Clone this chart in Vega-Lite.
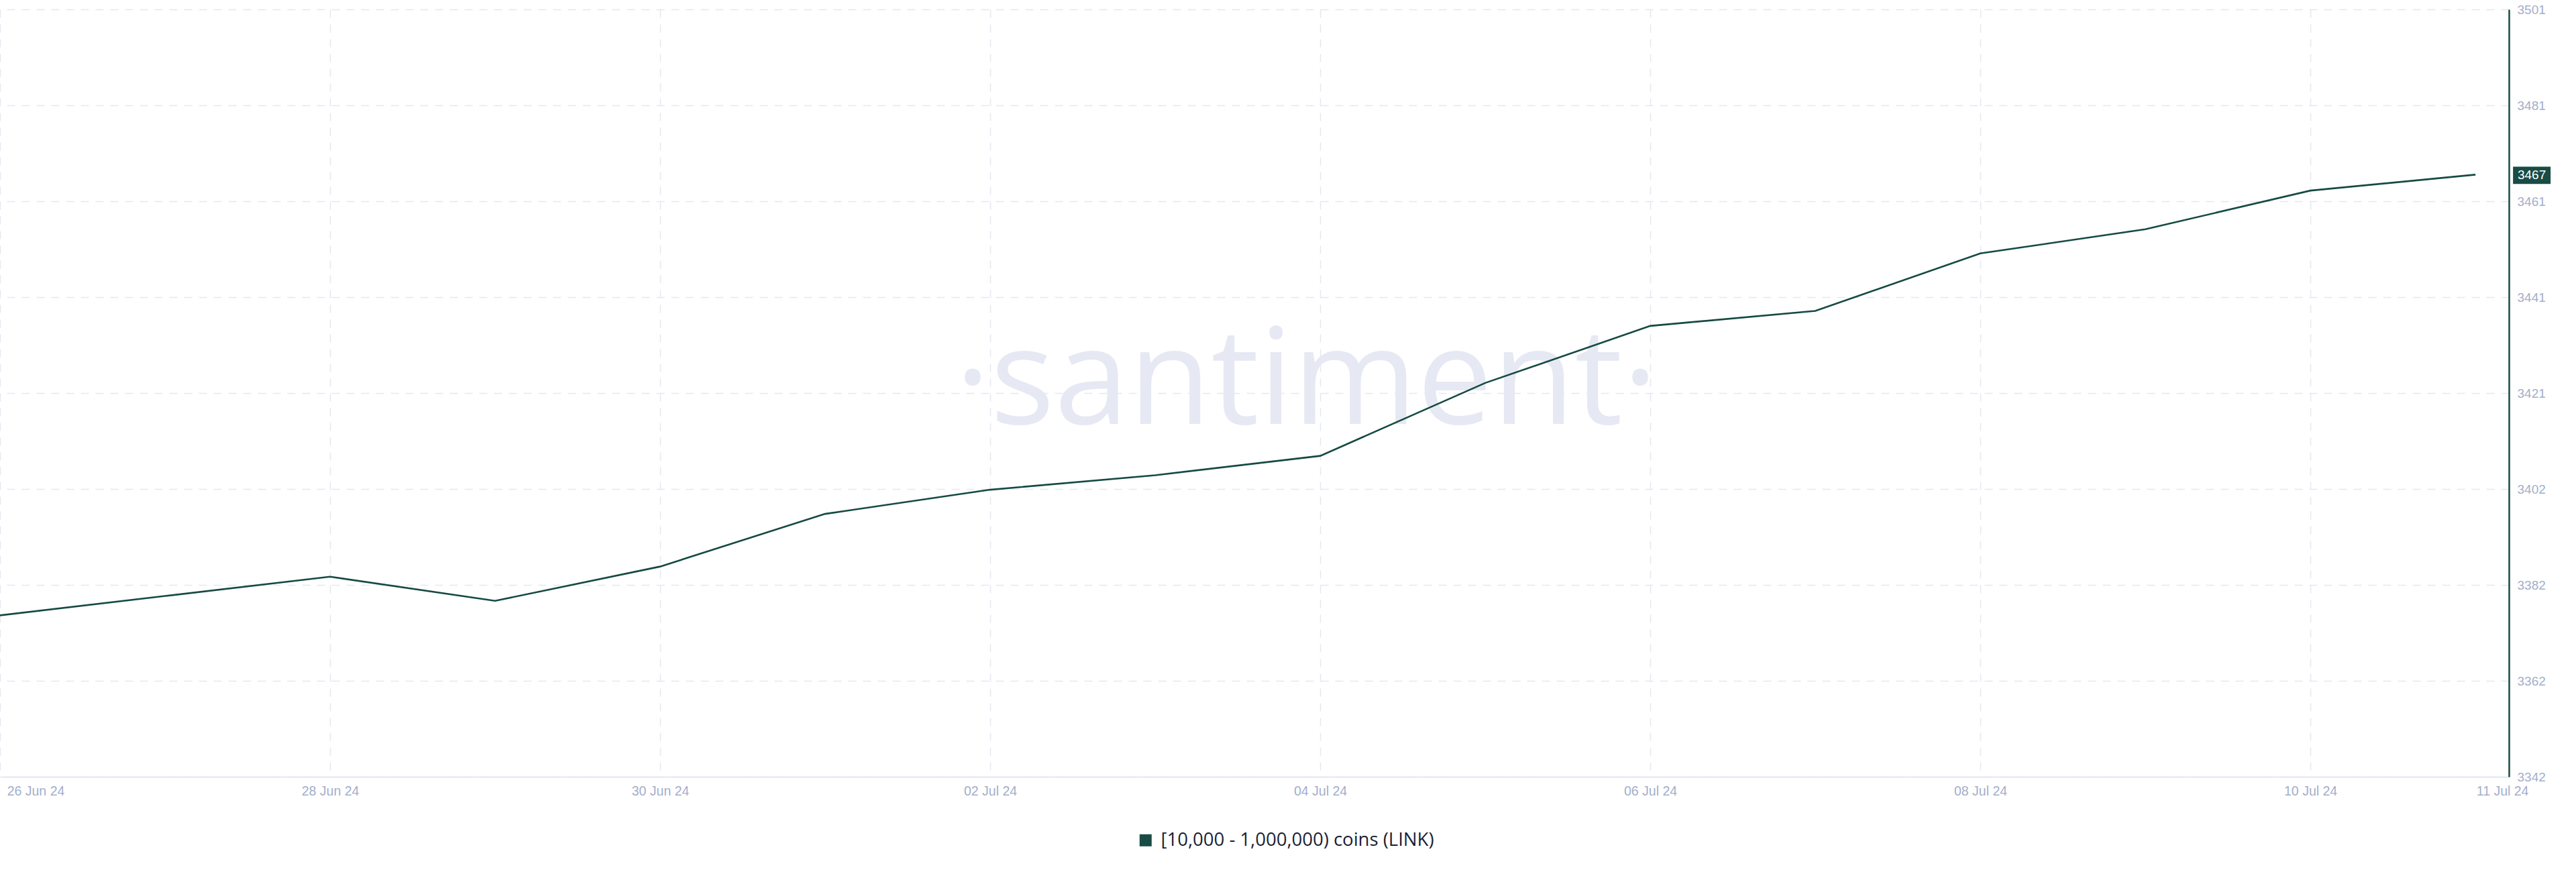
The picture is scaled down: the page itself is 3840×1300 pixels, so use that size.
{
  "$schema": "https://vega.github.io/schema/vega-lite/v6.json",
  "width": 3740,
  "height": 1144,
  "autosize": "none",
  "padding": {"left": 0, "top": 14, "right": 100, "bottom": 142},
  "background": "white",
  "config": {"view": {"stroke": null}},
  "data": {
    "values": [
      {"date": "2024-06-26", "value": 3375.4, "series": "[10,000 - 1,000,000) coins (LINK)"},
      {"date": "2024-06-27", "value": 3379.4, "series": "[10,000 - 1,000,000) coins (LINK)"},
      {"date": "2024-06-28", "value": 3383.4, "series": "[10,000 - 1,000,000) coins (LINK)"},
      {"date": "2024-06-29", "value": 3378.4, "series": "[10,000 - 1,000,000) coins (LINK)"},
      {"date": "2024-06-30", "value": 3385.5, "series": "[10,000 - 1,000,000) coins (LINK)"},
      {"date": "2024-07-01", "value": 3396.4, "series": "[10,000 - 1,000,000) coins (LINK)"},
      {"date": "2024-07-02", "value": 3401.4, "series": "[10,000 - 1,000,000) coins (LINK)"},
      {"date": "2024-07-03", "value": 3404.4, "series": "[10,000 - 1,000,000) coins (LINK)"},
      {"date": "2024-07-04", "value": 3408.4, "series": "[10,000 - 1,000,000) coins (LINK)"},
      {"date": "2024-07-05", "value": 3423.5, "series": "[10,000 - 1,000,000) coins (LINK)"},
      {"date": "2024-07-06", "value": 3435.3, "series": "[10,000 - 1,000,000) coins (LINK)"},
      {"date": "2024-07-07", "value": 3438.4, "series": "[10,000 - 1,000,000) coins (LINK)"},
      {"date": "2024-07-08", "value": 3450.3, "series": "[10,000 - 1,000,000) coins (LINK)"},
      {"date": "2024-07-09", "value": 3455.3, "series": "[10,000 - 1,000,000) coins (LINK)"},
      {"date": "2024-07-10", "value": 3463.3, "series": "[10,000 - 1,000,000) coins (LINK)"},
      {"date": "2024-07-11", "value": 3466.6, "series": "[10,000 - 1,000,000) coins (LINK)"}
    ]
  },
  "layer": [
    {
      "data": {"values": [{"label": "·santiment·"}]},
      "mark": {"type": "text", "font": "Open Sans", "fontSize": 200, "color": "#e6e9f3", "align": "center", "baseline": "alphabetic"},
      "encoding": {
        "text": {"field": "label"},
        "x": {"datum": {"year": 2024, "month": 7, "date": 3, "hours": 22, "utc": true}, "type": "temporal", "title": null},
        "y": {"datum": 3415, "type": "quantitative", "title": null}
      }
    },
    {
      "mark": {"type": "line", "strokeWidth": 2.6, "color": "#154a42"},
      "encoding": {
        "x": {
          "field": "date", "type": "temporal", "title": null,
          "scale": {"type": "utc", "domain": [{"year": 2024, "month": 6, "date": 26, "utc": true}, {"year": 2024, "month": 7, "date": 11, "hours": 4, "minutes": 52, "utc": true}]},
          "axis": {
            "values": [
              {"year": 2024, "month": 6, "date": 26, "utc": true},
              {"year": 2024, "month": 6, "date": 28, "utc": true},
              {"year": 2024, "month": 6, "date": 30, "utc": true},
              {"year": 2024, "month": 7, "date": 2, "utc": true},
              {"year": 2024, "month": 7, "date": 4, "utc": true},
              {"year": 2024, "month": 7, "date": 6, "utc": true},
              {"year": 2024, "month": 7, "date": 8, "utc": true},
              {"year": 2024, "month": 7, "date": 10, "utc": true},
              {"year": 2024, "month": 7, "date": 11, "utc": true}
            ],
            "labelExpr": "utcFormat(datum.value, '%d %b %y')",
            "labelFlush": false,
            "labelOverlap": false,
            "labelFont": "Liberation Sans",
            "labelFontSize": 19.5,
            "labelColor": "#a3aecb",
            "labelPadding": 12,
            "labelOffset": {"condition": [{"test": "datum.value < 1719400000000", "value": 53}, {"test": "datum.value > 1720600000000", "value": 40}], "value": 0},
            "ticks": false,
            "domainColor": "#e3e7f0",
            "domainWidth": 2,
            "grid": true,
            "gridColor": "#e5e8f1",
            "gridWidth": 1.5,
            "gridDash": [12, 10],
            "gridOpacity": {"condition": {"test": "datum.value > 1720600000000", "value": 0}, "value": 1}
          }
        },
        "y": {
          "field": "value", "type": "quantitative", "title": null,
          "scale": {"domain": [3342, 3500.8], "nice": false, "zero": false},
          "axis": {
            "orient": "right",
            "values": [3342, 3361.85, 3381.7, 3401.55, 3421.4, 3441.25, 3461.1, 3480.95, 3500.8],
            "format": ".0f",
            "labelFont": "Liberation Sans",
            "labelFontSize": 19,
            "labelColor": "#a3aecb",
            "labelPadding": 12,
            "labelOverlap": false,
            "ticks": false,
            "domainColor": "#184c45",
            "domainWidth": 2.5,
            "grid": true,
            "gridColor": "#e5e8f1",
            "gridWidth": 1.5,
            "gridDash": [12, 10]
          }
        },
        "color": {
          "field": "series", "type": "nominal",
          "scale": {"range": ["#154a42"]},
          "legend": {
            "orient": "none", "legendX": 1694, "legendY": 1225, "title": null,
            "symbolType": "square", "symbolSize": 324, "symbolStrokeWidth": 0, "symbolFillColor": "#184c45",
            "labelFont": "Open Sans", "labelFontSize": 27.5, "labelColor": "#1a1f36", "labelOffset": 9, "labelLimit": 0, "padding": 0,
            "encode": {"symbols": {"update": {"fill": {"value": "#184c45"}, "stroke": {"value": "#184c45"}, "strokeWidth": {"value": 0}}}}
          }
        }
      }
    },
    {
      "transform": [{"filter": "datum.value > 3465"}],
      "mark": {"type": "point", "shape": "M-1,-0.464L1,-0.464L1,0.464L-1,0.464Z", "size": 3136, "filled": true, "color": "#184c45", "opacity": 1, "xOffset": 84, "yOffset": 1},
      "encoding": {
        "x": {"field": "date", "type": "temporal", "title": null},
        "y": {"field": "value", "type": "quantitative", "title": null}
      }
    },
    {
      "transform": [{"filter": "datum.value > 3465"}],
      "mark": {"type": "text", "font": "Liberation Sans", "fontSize": 19, "color": "white", "align": "center", "baseline": "middle", "xOffset": 84, "yOffset": 1},
      "encoding": {
        "x": {"field": "date", "type": "temporal", "title": null},
        "y": {"field": "value", "type": "quantitative", "title": null},
        "text": {"field": "value", "type": "quantitative", "format": ".0f"}
      }
    }
  ]
}
